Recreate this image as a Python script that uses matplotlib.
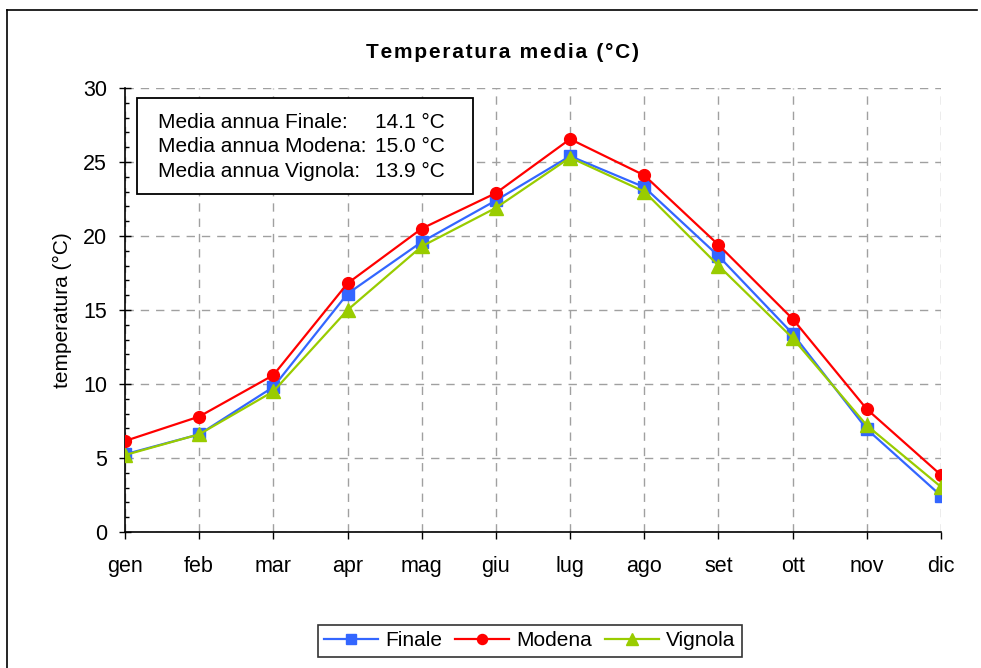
import numpy as np
import matplotlib
matplotlib.use("Agg")
import matplotlib.pyplot as plt
from matplotlib.lines import Line2D
from matplotlib.patches import Rectangle

plt.rcParams['font.family'] = ['Liberation Sans', 'DejaVu Sans']

# Data
months = ['gen', 'feb', 'mar', 'apr', 'mag', 'giu', 'lug', 'ago', 'set', 'ott', 'nov', 'dic']
finale = [5.25, 6.6, 9.8, 16.1, 19.6, 22.4, 25.4, 23.3, 18.65, 13.4, 6.95, 2.45]
modena = [6.15, 7.8, 10.6, 16.8, 20.5, 22.9, 26.55, 24.1, 19.4, 14.4, 8.3, 3.85]
vignola = [5.2, 6.6, 9.5, 15.0, 19.3, 21.9, 25.3, 23.0, 18.0, 13.1, 7.2, 3.05]
annual_labels = ['Media annua Finale:', 'Media annua Modena:', 'Media annua Vignola:']
annual_values = ['14.1 °C', '15.0 °C', '13.9 °C']
title = 'Temperatura media (°C)'

fig = plt.figure(figsize=(9.81, 6.68), dpi=100)
ax = fig.add_axes([125 / 981, 1 - 532 / 668, (941 - 125) / 981, (532 - 88) / 668])

x = np.arange(len(months))
ax.plot(x, finale, color='#3366FF', lw=1.6, marker='s', ms=8, label='Finale', zorder=3)
ax.plot(x, modena, color='#FF0000', lw=1.6, marker='o', ms=8.5, label='Modena', zorder=3)
ax.plot(x, vignola, color='#99CC00', lw=1.6, marker='^', ms=9.5, label='Vignola', zorder=3)

ax.set_xlim(0, 11)
ax.set_ylim(0, 30)
ax.set_xticks(x)
ax.set_xticklabels(months)
ax.set_yticks(np.arange(0, 31, 5))
ax.set_yticks(np.arange(0, 31, 1), minor=True)
ax.tick_params(axis='x', direction='out', length=5, width=1, pad=12, labelsize=15.5)
ax.tick_params(axis='y', which='major', direction='inout', length=8, width=1, pad=9, labelsize=15.5)
ax.tick_params(axis='y', which='minor', direction='in', length=3, width=1)

ax.grid(True, which='major', color='#a0a0a0', linestyle=(0, (6, 5)), linewidth=1)
ax.set_axisbelow(True)
for s in ['top', 'right']:
    ax.spines[s].set_visible(False)
for s in ['left', 'bottom']:
    ax.spines[s].set_linewidth(1.2)

ax.set_ylabel('temperatura (°C)', fontsize=15, labelpad=8)
# Excel-style letter spacing in the title
fig.text(502 / 981, 1 - 52 / 668, '\u200a'.join(title), ha='center', va='center',
         fontsize=15, fontweight='bold')

# box with annual means
fig.patches.append(Rectangle((137 / 981, 1 - 194 / 668), (473 - 137) / 981, (194 - 98) / 668,
                             transform=fig.transFigure, facecolor='white', edgecolor='black',
                             lw=1.3, zorder=5))
for i, (lab, val) in enumerate(zip(annual_labels, annual_values)):
    yy = 1 - (122 + i * 25) / 668
    fig.text(158 / 981, yy, lab, ha='left', va='center', fontsize=15, zorder=6)
    fig.text(445 / 981, yy, val, ha='right', va='center', fontsize=15, zorder=6)

# outer frame (only left and top visible)
fig.add_artist(Line2D([7 / 981, 7 / 981], [0, 1 - 10 / 668], color='black', lw=1.2,
                      transform=fig.transFigure))
fig.add_artist(Line2D([7 / 981, 977 / 981], [1 - 10 / 668, 1 - 10 / 668], color='black', lw=1.2,
                      transform=fig.transFigure))

leg = fig.legend(loc='center', bbox_to_anchor=(530 / 981, 1 - 641 / 668), ncol=3,
                 fontsize=15, frameon=True, fancybox=False, edgecolor='black',
                 handlelength=2.6, handletextpad=0.35, columnspacing=0.6,
                 borderpad=0.3, markerscale=0.85)
leg.get_frame().set_linewidth(1.2)

fig.savefig('out.png', dpi=100)
